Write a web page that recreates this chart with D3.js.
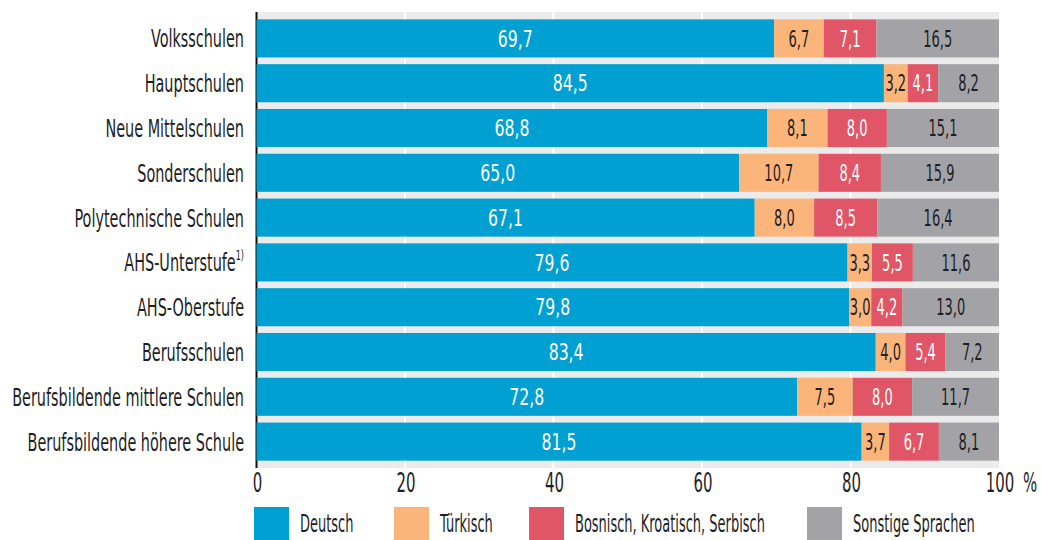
<!DOCTYPE html>
<html>
<head>
<meta charset="utf-8">
<script src="https://cdn.jsdelivr.net/npm/d3@7"></script>
<style>
  body { margin: 0; background: #fff; }
  svg text { font-family: "Liberation Sans Narrow", "DejaVu Sans Condensed", sans-serif; fill: #1e1e24; }
</style>
</head>
<body>
<svg id="chart"></svg>
<script>
const schools = ["Volksschulen", "Hauptschulen", "Neue Mittelschulen", "Sonderschulen",
  "Polytechnische Schulen", "AHS-Unterstufe", "AHS-Oberstufe", "Berufsschulen",
  "Berufsbildende mittlere Schulen", "Berufsbildende höhere Schule"];
const languages = ["Deutsch", "Türkisch", "Bosnisch, Kroatisch, Serbisch", "Sonstige Sprachen"];
const deutsch  = [69.7, 84.5, 68.8, 65.0, 67.1, 79.6, 79.8, 83.4, 72.8, 81.5];
const tuerkisch = [6.7, 3.2, 8.1, 10.7, 8.0, 3.3, 3.0, 4.0, 7.5, 3.7];
const bks      = [7.1, 4.1, 8.0, 8.4, 8.5, 5.5, 4.2, 5.4, 8.0, 6.7];
const sonstige = [16.5, 8.2, 15.1, 15.9, 16.4, 11.6, 13.0, 7.2, 11.7, 8.1];
const xTicks = [0, 20, 40, 60, 80, 100];

const colors = ["#00a0d3", "#fbb57b", "#e05666", "#a3a3a7"];
const labelColors = ["#ffffff", "#1e1e24", "#ffffff", "#1e1e24"];

const width = 1041, height = 540;
const svg = d3.select("#chart").attr("width", width).attr("height", height);

// table for the stack
const rows = schools.map((s, i) => ({
  school: s, 0: deutsch[i], 1: tuerkisch[i], 2: bks[i], 3: sonstige[i]
}));
const series = d3.stack().keys([0, 1, 2, 3])(rows);

const xScale = d3.scaleLinear().domain([0, 100]).range([256.5, 999]);
const yScale = d3.scaleBand().domain(schools).range([16, 464]).paddingInner(0.15).paddingOuter(0.075);

// the original uses a very condensed face: measure a sample string and squeeze to its width
function fitScale(sample, size, target) {
  const t = svg.append("text").attr("font-size", size).text(sample);
  const w = t.node().getComputedTextLength();
  t.remove();
  return target / w;
}
const catScale = fitScale("Berufsbildende mittlere Schulen", 25, 232);
const bigValScale = fitScale("69,7", 23, 35);
const valScale = fitScale("15,9", 23, 29);
const tickScale = fitScale("20", 26, 19);
const legScale = fitScale("Bosnisch, Kroatisch, Serbisch", 25, 190);

function squeeze(sel, x, y, sx) {
  sel.attr("transform", (d, i) => `translate(${typeof x === "function" ? x(d, i) : x},${typeof y === "function" ? y(d, i) : y}) scale(${sx},1)`);
}

// plot background and grid
svg.append("rect")
  .attr("x", xScale(0)).attr("y", 12)
  .attr("width", xScale(100) - xScale(0)).attr("height", 456)
  .attr("fill", "#ebebeb");

svg.append("g").selectAll("line")
  .data(xTicks.slice(1, -1))
  .join("line")
  .attr("x1", d => xScale(d)).attr("x2", d => xScale(d))
  .attr("y1", 12).attr("y2", 468)
  .attr("stroke", "#fff").attr("stroke-width", 2);

svg.append("line")
  .attr("x1", xScale(0)).attr("x2", xScale(0))
  .attr("y1", 12).attr("y2", 468)
  .attr("stroke", "#111").attr("stroke-width", 2);

// bars
const layers = svg.append("g").selectAll("g")
  .data(series)
  .join("g")
  .attr("fill", (d, i) => colors[i]);

layers.selectAll("rect")
  .data(d => d)
  .join("rect")
  .attr("x", d => xScale(d[0]))
  .attr("y", d => yScale(d.data.school))
  .attr("width", d => xScale(d[1]) - xScale(d[0]))
  .attr("height", yScale.bandwidth());

// value labels
const fmt = v => v.toFixed(1).replace(".", ",");
series.forEach((s, k) => {
  svg.append("g").selectAll("text")
    .data(s)
    .join("text")
    .attr("text-anchor", "middle")
    .attr("dy", "0.36em")
    .attr("font-size", 23)
    .style("fill", labelColors[k])
    .text(d => fmt(d[1] - d[0]))
    .call(squeeze, d => xScale((d[0] + d[1]) / 2), d => yScale(d.data.school) + yScale.bandwidth() / 2,
      k === 0 ? bigValScale : valScale);
});

// category labels
const cats = svg.append("g").selectAll("text")
  .data(schools)
  .join("text")
  .attr("text-anchor", "end")
  .attr("font-size", 25)
  .call(squeeze, 244, d => yScale(d) + yScale.bandwidth() / 2 + 9, catScale);
cats.filter(d => d !== "AHS-Unterstufe").text(d => d);
cats.filter(d => d === "AHS-Unterstufe")
  .call(t => {
    t.append("tspan").text(d => d);
    t.append("tspan").attr("font-size", 14).attr("dy", -11).text("1)");
  });

// x axis labels
svg.append("g").selectAll("text")
  .data(xTicks)
  .join("text")
  .attr("text-anchor", "middle")
  .attr("dy", "0.36em")
  .attr("font-size", 26)
  .text(d => d)
  .call(squeeze, d => xScale(d) + 1, 483, tickScale);

svg.append("text")
  .attr("text-anchor", "middle")
  .attr("dy", "0.36em")
  .attr("font-size", 26)
  .text("%")
  .call(squeeze, 1030, 483, tickScale);

// legend
const legendX = [254, 394, 529, 807];
const legend = svg.append("g").selectAll("g")
  .data(languages)
  .join("g")
  .attr("transform", (d, i) => `translate(${legendX[i]},507)`);

legend.append("rect")
  .attr("width", 35).attr("height", 40)
  .attr("fill", (d, i) => colors[i]);

legend.append("text")
  .attr("dy", "0.36em")
  .attr("font-size", 25)
  .text(d => d)
  .call(squeeze, 46, 16, legScale);
</script>
</body>
</html>
